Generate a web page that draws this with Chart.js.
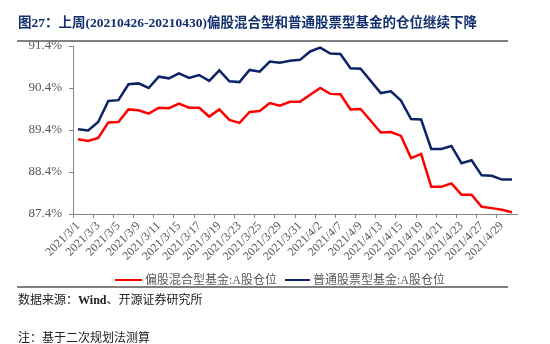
<!DOCTYPE html>
<html lang="zh">
<head>
  <meta charset="UTF-8">
  <title>偏股混合型和普通股票型基金仓位</title>
  <script src="https://cdn.jsdelivr.net/npm/chart.js"></script>
  <style>
    body { margin: 0; background: #fff; }
    #page { position: relative; width: 550px; height: 344px; overflow: hidden;
            font-family: "Liberation Serif", "Noto Sans CJK SC", serif; }
    #salesChart { position: absolute; left: 0; top: 0; }
    .title { position: absolute; left: 18px; top: 11px; font-size: 13.5px; font-weight: bold;
             color: #12306e; white-space: nowrap; }
    .rule { position: absolute; left: 17px; width: 491px; height: 2px; background: #808080; }
    .legend { position: absolute; top: 270px; font-size: 12px; color: #595959; white-space: nowrap; }
    .legend span.swatch { position: absolute; top: 9px; height: 0; border-top: 2.5px solid; }
    .note { position: absolute; left: 18px; font-size: 12px; color: #222; white-space: nowrap; }
  </style>
</head>
<body>
<div id="page">
  <canvas id="salesChart" width="550" height="344"></canvas>
  <div class="title">图27：上周(20210426-20210430)偏股混合型和普通股票型基金的仓位继续下降</div>
  <div class="rule" style="top:40px"></div>

  <div class="legend" style="left:115px">
    <span class="swatch" style="left:0;width:27px;border-color:#ff0000"></span>
    <span style="position:absolute;left:30px">偏股混合型基金:A股仓位</span>
  </div>
  <div class="legend" style="left:285px">
    <span class="swatch" style="left:0;width:25px;border-color:#0c2466"></span>
    <span style="position:absolute;left:28px">普通股票型基金:A股仓位</span>
  </div>

  <div class="rule" style="top:286px"></div>
  <div class="note" style="top:290px">数据来源：<b>Wind</b>、开源证券研究所</div>
  <div class="note" style="top:328px">注：基于二次规划法测算</div>
</div>

<script>
  // trading days, 2021/3/1 - 2021/4/30
  const dates = [
    '2021/3/1', '2021/3/2', '2021/3/3', '2021/3/4', '2021/3/5',
    '2021/3/8', '2021/3/9', '2021/3/10', '2021/3/11', '2021/3/12',
    '2021/3/15', '2021/3/16', '2021/3/17', '2021/3/18', '2021/3/19',
    '2021/3/22', '2021/3/23', '2021/3/24', '2021/3/25', '2021/3/26',
    '2021/3/29', '2021/3/30', '2021/3/31', '2021/4/1', '2021/4/2',
    '2021/4/6', '2021/4/7', '2021/4/8', '2021/4/9',
    '2021/4/12', '2021/4/13', '2021/4/14', '2021/4/15', '2021/4/16',
    '2021/4/19', '2021/4/20', '2021/4/21', '2021/4/22', '2021/4/23',
    '2021/4/26', '2021/4/27', '2021/4/28', '2021/4/29', '2021/4/30'
  ];

  // 偏股混合型基金:A股仓位 (%)
  const hybridFund = [
    89.18, 89.14, 89.21, 89.58, 89.59,
    89.89, 89.87, 89.79, 89.93, 89.92,
    90.03, 89.93, 89.93, 89.72, 89.89,
    89.64, 89.57, 89.83, 89.85, 90.04,
    89.98, 90.07, 90.07, 90.24, 90.40,
    90.26, 90.25, 89.89, 89.90,
    89.62, 89.34, 89.35, 89.26, 88.73,
    88.83, 88.05, 88.05, 88.13, 87.86,
    87.86, 87.57, 87.54, 87.50, 87.44
  ];

  // 普通股票型基金:A股仓位 (%)
  const stockFund = [
    89.42, 89.39, 89.59, 90.09, 90.11,
    90.49, 90.51, 90.40, 90.67, 90.63,
    90.75, 90.64, 90.71, 90.57, 90.82,
    90.56, 90.54, 90.83, 90.79, 91.03,
    91.00, 91.05, 91.07, 91.27, 91.36,
    91.22, 91.21, 90.87, 90.86,
    90.57, 90.28, 90.32, 90.10, 89.66,
    89.65, 88.95, 88.95, 89.02, 88.61,
    88.68, 88.32, 88.31, 88.22, 88.22
  ];

  const yTicks = [87.4, 88.4, 89.4, 90.4, 91.4];

  const axisGray = '#868686';
  const labelGray = '#595959';

  const ctx = document.getElementById('salesChart').getContext('2d');
  const positionChart = new Chart(ctx, {
    type: 'line',
    data: {
      labels: dates,
      datasets: [
        {
          label: '偏股混合型基金:A股仓位',
          data: hybridFund,
          borderColor: '#ff0000',
          borderWidth: 2.5,
          pointRadius: 0,
          tension: 0,
          fill: false
        },
        {
          label: '普通股票型基金:A股仓位',
          data: stockFund,
          borderColor: '#0c2466',
          borderWidth: 2.5,
          pointRadius: 0,
          tension: 0,
          fill: false
        }
      ]
    },
    options: {
      responsive: false,
      animation: false,
      devicePixelRatio: 1,
      layout: { padding: { left: 0, top: 46, right: 33, bottom: 70 } },
      plugins: {
        legend: { display: false },
        tooltip: { enabled: false }
      },
      scales: {
        x: {
          offset: true,
          border: { color: axisGray, width: 1 },
          grid: {
            offset: true,
            drawOnChartArea: false,
            tickLength: 4,
            // a tick mark every second day
            color: (c) => (c.index % 2 === 0 ? axisGray : 'rgba(0,0,0,0)')
          },
          ticks: {
            autoSkip: false,
            minRotation: 45,
            maxRotation: 45,
            padding: 1,
            color: labelGray,
            font: { family: 'Liberation Serif', size: 12 },
            callback: function (value, index) {
              return index % 2 === 0 ? this.getLabelForValue(value) : '';
            }
          },
          afterFit: (scale) => { scale.height = 60; }
        },
        y: {
          min: 87.4,
          max: 91.4,
          border: { color: axisGray, width: 1 },
          grid: { drawOnChartArea: false, tickLength: 4, color: axisGray },
          afterBuildTicks: (scale) => { scale.ticks = yTicks.map(v => ({ value: v })); },
          ticks: {
            padding: 7,
            color: labelGray,
            font: { family: 'Liberation Serif', size: 13 },
            callback: (v) => v.toFixed(1) + '%'
          },
          afterFit: (scale) => { scale.width = 73; }
        }
      }
    }
  });
</script>
</body>
</html>
